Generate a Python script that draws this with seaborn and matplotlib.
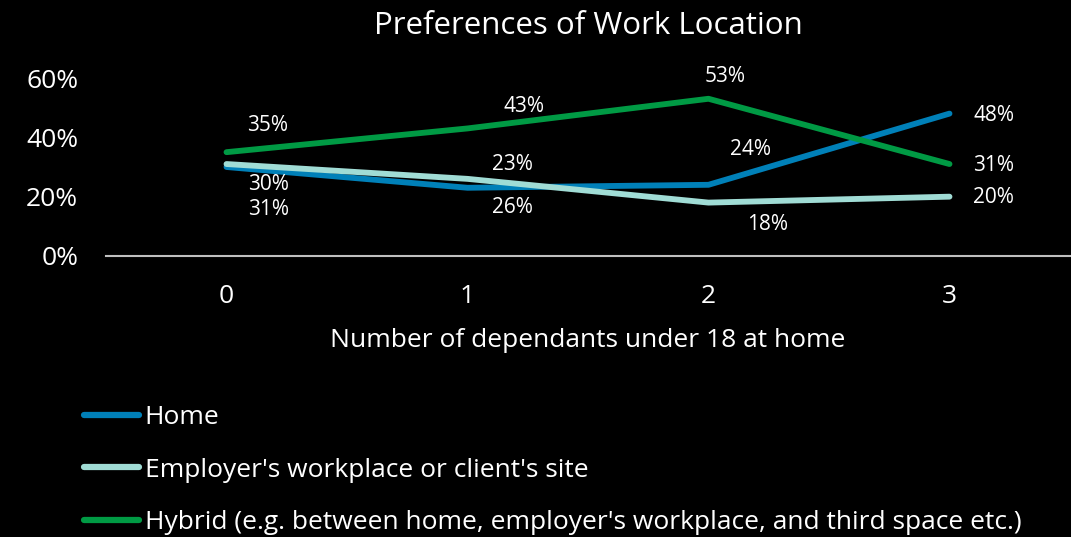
import matplotlib
matplotlib.use("Agg")
import matplotlib.pyplot as plt
import seaborn as sns
import pandas as pd

dependants = [0, 1, 2, 3]
home = [30, 23, 24, 48]
employer = [31, 26, 18, 20]
hybrid = [35, 43, 53, 31]
series_names = ["Home", "Employer's workplace or client's site",
                "Hybrid (e.g. between home, employer's workplace, and third space etc.)"]
yticks = [0, 20, 40, 60]

sns.set_theme(style="dark")
plt.rcParams['font.family'] = ['Open Sans', 'DejaVu Sans']

df = pd.DataFrame({
    "x": dependants * 3,
    "value": home + employer + hybrid,
    "series": [series_names[0]] * 4 + [series_names[1]] * 4 + [series_names[2]] * 4,
})
colors = ["#0080B8", "#A0DCD5", "#009A44"]

fig = plt.figure(figsize=(10.71, 5.37), dpi=100, facecolor="black")
ax = fig.add_axes([106 / 1071, 1 - 256 / 537, 964 / 1071, 178 / 537])
ax.set_facecolor("black")

sns.lineplot(data=df, x="x", y="value", hue="series", palette=colors, ax=ax,
             linewidth=4.2, solid_capstyle="round", legend=True)

ax.set_xlim(-0.5, 3.5)
ax.set_ylim(0, 60)
ax.set_xticks(dependants)
ax.set_xticklabels([str(d) for d in dependants])
ax.set_yticks(yticks)
ax.set_yticklabels([f"{v}%" for v in yticks])
ax.tick_params(axis="x", colors="white", labelsize=19, pad=20, length=0)
ax.tick_params(axis="y", colors="white", labelsize=19, pad=20, length=0)
ax.grid(False)
for s in ["top", "right", "left"]:
    ax.spines[s].set_visible(False)
ax.spines["bottom"].set_color("#BFBFBF")
ax.spines["bottom"].set_linewidth(1.5)
ax.set_xlabel("Number of dependants under 18 at home", color="white", fontsize=19, labelpad=14)
ax.set_ylabel("")

# data labels (pixel offsets from points)
offsets = {
    0: [(42, -17), (45, 23), (42, 35), (44, -2)],
    1: [(42, -45), (45, -29), (59, -22), (44, -1)],
    2: [(41, 27), (56, 22), (17, 22), (44, -1)],
}
for si, vals in enumerate([home, employer, hybrid]):
    for i, (x, v) in enumerate(zip(dependants, vals)):
        dx, dy = offsets[si][i]
        ax.annotate(f"{v}%", (x, v), xytext=(dx, dy), textcoords="offset pixels",
                    ha="center", va="center", color="white", fontsize=15,
                    annotation_clip=False)

ax.set_title("Preferences of Work Location", color="white", fontsize=22.5, pad=32)

leg = ax.get_legend()
handles = leg.legend_handles
labels = [t.get_text() for t in leg.get_texts()]
leg.remove()
for h in handles:
    h.set_linewidth(4.5)
    h.set_solid_capstyle("round")
fig.legend(handles, labels, loc="upper left", bbox_to_anchor=(84 / 1071, 1 - 405 / 537),
           frameon=False, fontsize=19, labelcolor="white", handlelength=2.1,
           handletextpad=0.2, labelspacing=1.05, borderaxespad=0, borderpad=0)

fig.savefig("out.png", dpi=100, facecolor="black")
